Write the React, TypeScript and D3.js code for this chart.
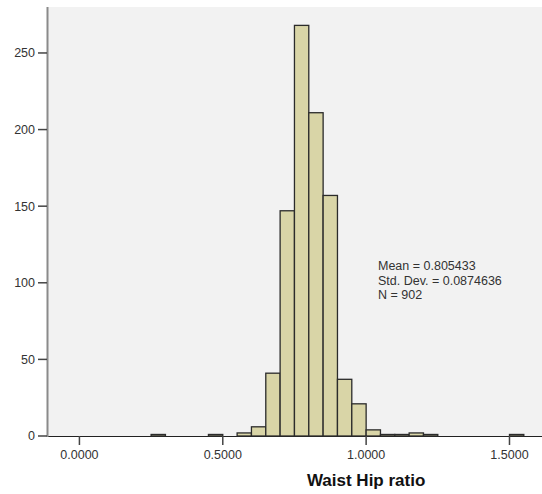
import React from "react";
import * as d3 from "d3";

// Histogram of waist–hip ratio, bin width 0.05
const binStarts = [
  0.25, 0.3, 0.35, 0.4, 0.45, 0.5, 0.55, 0.6, 0.65, 0.7, 0.75, 0.8, 0.85,
  0.9, 0.95, 1.0, 1.05, 1.1, 1.15, 1.2, 1.25, 1.3, 1.35, 1.4, 1.45, 1.5,
];
const binCounts = [
  1, 0, 0, 0, 1, 0, 2, 6, 41, 147, 268, 211, 157, 37, 21, 4, 1, 1, 2, 1, 0,
  0, 0, 0, 0, 1,
];
const binWidth = 0.05;
const xTicks = [0, 0.5, 1.0, 1.5];
const yTicks = [0, 50, 100, 150, 200, 250];
const statsLines = ["Mean = 0.805433", "Std. Dev. = 0.0874636", "N = 902"];
const xTitle = "Waist Hip ratio";

const W = 542;
const H = 494;
const plot = { left: 48, right: 542, top: 7, bottom: 436 };

export default function App() {
  const x = d3
    .scaleLinear()
    .domain([-0.1096, 1.6134])
    .range([plot.left, plot.right]);
  const y = d3.scaleLinear().domain([0, 280]).range([plot.bottom, plot.top]);
  const fmt = d3.format(".4f");
  const font = "'Liberation Sans', Arial, sans-serif";

  return (
    <svg
      width={W}
      height={H}
      style={{ position: "absolute", left: 0, top: 0, background: "#fff" }}
    >
      <rect
        x={plot.left}
        y={plot.top}
        width={plot.right - plot.left}
        height={plot.bottom - plot.top}
        fill="#f2f2f2"
      />
      {/* x axis baseline */}
      <line
        x1={plot.left}
        x2={plot.right}
        y1={plot.bottom + 0.5}
        y2={plot.bottom + 0.5}
        stroke="#222"
        strokeWidth={1}
      />
      {/* bars */}
      {binStarts.map((s, i) => {
        const x0 = x(s);
        const x1 = x(s + binWidth);
        const yt = y(binCounts[i]);
        return (
          <rect
            key={i}
            x={x0}
            y={yt}
            width={x1 - x0}
            height={plot.bottom - yt}
            fill="#d9d5a7"
            stroke="#2b2b2b"
            strokeWidth={1.3}
          />
        );
      })}
      {/* y axis */}
      <line
        x1={plot.left - 0.5}
        x2={plot.left - 0.5}
        y1={plot.top}
        y2={plot.bottom + 1}
        stroke="#8a8a8a"
        strokeWidth={2}
      />
      {yTicks.map((t) => (
        <g key={t}>
          <line
            x1={38}
            x2={plot.left - 1}
            y1={y(t)}
            y2={y(t)}
            stroke="#444"
            strokeWidth={1.5}
          />
          <text
            x={35}
            y={y(t)}
            dy="0.35em"
            textAnchor="end"
            fontFamily={font}
            fontSize={12.5}
            fill="#333"
          >
            {t}
          </text>
        </g>
      ))}
      {/* x ticks */}
      {xTicks.map((t) => (
        <g key={t}>
          <line
            x1={x(t)}
            x2={x(t)}
            y1={plot.bottom}
            y2={plot.bottom + 9}
            stroke="#444"
            strokeWidth={1.5}
          />
          <text
            x={x(t)}
            y={459}
            textAnchor="middle"
            fontFamily={font}
            fontSize={12.5}
            fill="#333"
          >
            {fmt(t)}
          </text>
        </g>
      ))}
      <text
        x={x(1.0)}
        y={486}
        textAnchor="middle"
        fontFamily={font}
        fontSize={17}
        fontWeight="bold"
        fill="#111"
      >
        {xTitle}
      </text>
      {/* summary statistics */}
      {statsLines.map((s, i) => (
        <text
          key={s}
          x={378}
          y={270 + i * 14.7}
          fontFamily={font}
          fontSize={12.5}
          fill="#333"
        >
          {s}
        </text>
      ))}
    </svg>
  );
}
